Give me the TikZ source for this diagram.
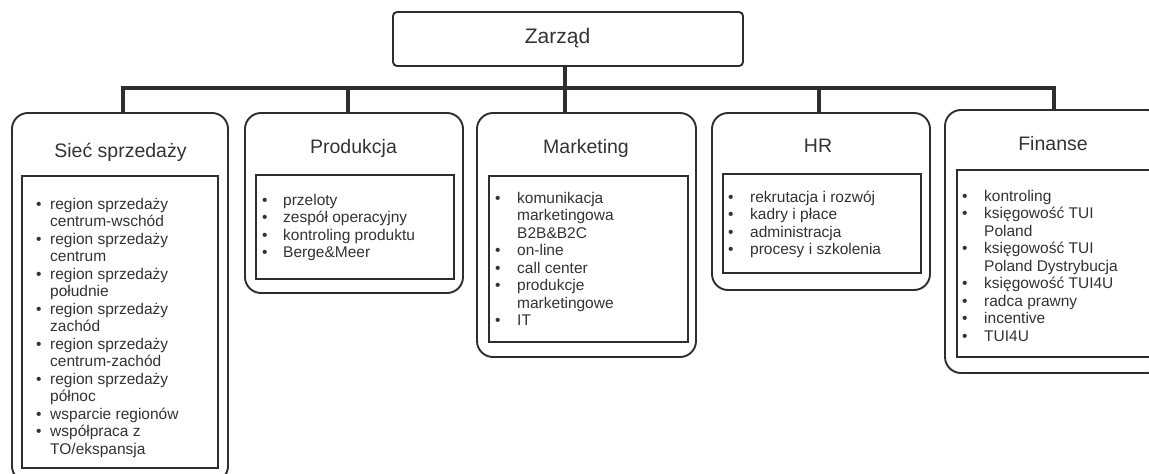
\documentclass[tikz,border=0pt]{standalone}
\usepackage{fontspec}
\setmainfont{Liberation Sans}
\definecolor{ink}{HTML}{2E2E2E}
\definecolor{txt}{HTML}{333333}
\begin{document}
\begin{tikzpicture}[x=1pt,y=-1pt,
  unit/.style={draw=ink, line width=1.9pt, rounded corners=16pt, inner sep=0pt, outer sep=0pt, fill=white},
  board/.style={draw=ink, line width=1.9pt, rounded corners=4pt, inner sep=0pt, outer sep=0pt, fill=white},
  tasks/.style={draw=ink, line width=2.3pt, inner sep=0pt, outer sep=0pt},
  bus/.style={draw=ink, line width=3.2pt},
  head/.style={anchor=base, inner sep=0pt, text=txt, font=\fontsize{19.5}{22}\selectfont},
  list/.style={anchor=base west, inner sep=0pt, text=txt, font=\fontsize{15.5}{17.5}\selectfont},
]
\useasboundingbox (0,0) rectangle (1149,474);
\clip (0,0) rectangle (1149,474);

% board
\node[board, minimum width=350pt, minimum height=54pt] (zarzad) at (568,39) {};
\node[head, font=\fontsize{21}{24}\selectfont] (zarzadT) at (557.5,43) {Zarząd};

% departments
\node[unit, minimum width=216pt, minimum height=369pt] (siec) at (120,297.5) {};
\node[unit, minimum width=218pt, minimum height=180pt] (prod) at (354,203) {};
\node[unit, minimum width=219pt, minimum height=244pt] (mark) at (586.5,235) {};
\node[unit, minimum width=218pt, minimum height=177pt] (hr)   at (821,201.5) {};
\node[unit, minimum width=218pt, minimum height=263pt] (fin)  at (1054,241.5) {};

% task frames
\node[tasks, minimum width=196pt, minimum height=292pt] (siecL) at (120,322) {};
\node[tasks, minimum width=198pt, minimum height=104pt] (prodL) at (355,227) {};
\node[tasks, minimum width=199pt, minimum height=166pt] (markL) at (588.5,259) {};
\node[tasks, minimum width=198pt, minimum height=99pt]  (hrL)   at (822,223.5) {};
\node[tasks, minimum width=194pt, minimum height=187pt] (finL)  at (1054,263.5) {};

% headings
\node[head] (siecT) at (120.5,157) {Sieć sprzedaży};
\node[head] (prodT) at (353.5,153) {Produkcja};
\node[head] (markT) at (586,153) {Marketing};
\node[head] (hrT)   at (818,152) {HR};
\node[head] (finT)  at (1053,150) {Finanse};

% task lists
\node[list] (siecI) at (36,209) {\begin{tabular}[t]{@{}p{14pt}@{}l@{}}
• & region sprzedaży\\ & centrum-wschód\\
• & region sprzedaży\\ & centrum\\
• & region sprzedaży\\ & południe\\
• & region sprzedaży\\ & zachód\\
• & region sprzedaży\\ & centrum-zachód\\
• & region sprzedaży\\ & północ\\
• & wsparcie regionów\\
• & współpraca z\\ & TO/ekspansja
\end{tabular}};
\node[list] (prodI) at (262,205) {\begin{tabular}[t]{@{}p{21pt}@{}l@{}}
• & przeloty\\
• & zespół operacyjny\\
• & kontroling produktu\\
• & Berge\&Meer
\end{tabular}};
\node[list] (markI) at (495,203) {\begin{tabular}[t]{@{}p{22pt}@{}l@{}}
• & komunikacja\\ & marketingowa\\ & B2B\&B2C\\
• & on-line\\
• & call center\\
• & produkcje\\ & marketingowe\\
• & IT
\end{tabular}};
\node[list] (hrI) at (728,202) {\begin{tabular}[t]{@{}p{22pt}@{}l@{}}
• & rekrutacja i rozwój\\
• & kadry i płace\\
• & administracja\\
• & procesy i szkolenia
\end{tabular}};
\node[list] (finI) at (962,201) {\begin{tabular}[t]{@{}p{22pt}@{}l@{}}
• & kontroling\\
• & księgowość TUI\\ & Poland\\
• & księgowość TUI\\ & Poland Dystrybucja\\
• & księgowość TUI4U\\
• & radca prawny\\
• & incentive\\
• & TUI4U
\end{tabular}};

% connectors
\coordinate (busy) at (0,88);
\coordinate (tapZ) at ([xshift=-3pt]zarzad.south);
\coordinate (tapS) at ([xshift=3pt]siec.north);
\coordinate (tapP) at ([xshift=-6pt]prod.north);
\coordinate (tapH) at ([xshift=-2pt]hr.north);
\draw[bus] (tapS) -- (tapS |- busy) -- (fin.north |- busy) -- (fin.north);
\draw[bus] (tapZ) -- (tapZ |- mark.north);
\draw[bus] (tapP) -- (tapP |- busy);
\draw[bus] (tapH) -- (tapH |- busy);
\end{tikzpicture}
\end{document}
